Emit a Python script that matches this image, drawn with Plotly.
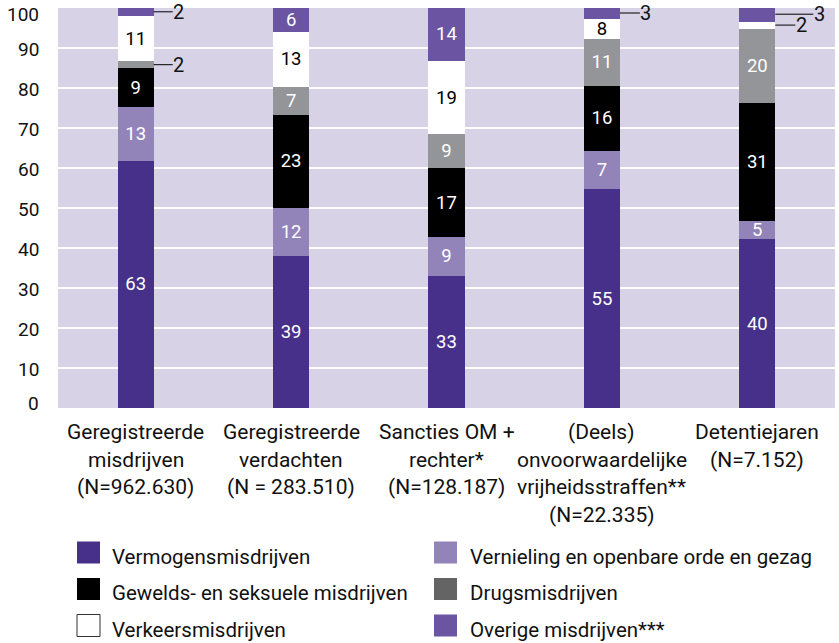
import plotly.graph_objects as go

# ---------------- data ----------------
categories = [
    "Geregistreerde<br>misdrijven<br>(N=962.630)",
    "Geregistreerde<br>verdachten<br>(N = 283.510)",
    "Sancties OM +<br>rechter*<br>(N=128.187)",
    "(Deels)<br>onvoorwaardelijke<br>vrijheidsstraffen**<br>(N=22.335)",
    "Detentiejaren<br>(N=7.152)",
]

series_names = [
    "Vermogensmisdrijven",
    "Vernieling en openbare orde en gezag",
    "Gewelds- en seksuele misdrijven",
    "Drugsmisdrijven",
    "Verkeersmisdrijven",
    "Overige misdrijven***",
]

# segment heights as drawn (percent)
vermogens_h = [61.8, 38.1, 33.1, 54.75, 42.25]
vernieling_h = [13.4, 11.9, 9.7, 9.6, 4.5]
gewelds_h = [9.75, 23.3, 17.1, 16.25, 29.4]
drugs_h = [1.75, 7.0, 8.5, 11.6, 18.7]
verkeer_h = [11.3, 13.7, 18.3, 5.0, 1.75]
overige_h = [2.1, 6.25, 13.6, 3.1, 3.7]

# printed labels (percent)
vermogens_lbl = [63, 39, 33, 55, 40]
vernieling_lbl = [13, 12, 9, 7, 5]
gewelds_lbl = [9, 23, 17, 16, 31]
drugs_lbl = [2, 7, 9, 11, 20]
verkeer_lbl = [11, 13, 19, 8, 2]
overige_lbl = [2, 6, 14, 3, 3]

y_ticks = [0, 10, 20, 30, 40, 50, 60, 70, 80, 90, 100]

heights = [vermogens_h, vernieling_h, gewelds_h, drugs_h, verkeer_h, overige_h]
labels = [vermogens_lbl, vernieling_lbl, gewelds_lbl, drugs_lbl, verkeer_lbl, overige_lbl]

# ---------------- style ----------------
bar_colors = ["#46308a", "#9283b9", "#000000", "#939598", "#ffffff", "#6b55a3"]
legend_colors = ["#46308a", "#9283b9", "#000000", "#646464", "#ffffff", "#6b55a3"]
text_colors = ["#ffffff", "#ffffff", "#ffffff", "#ffffff", "#000000", "#ffffff"]
FONT = "Roboto, Arial, sans-serif"
BG = "#d7d2e6"

# callouts: (series index, category index) -> pixel offset of label
callouts = {(5, 0): 25, (3, 0): 25, (5, 3): 26, (5, 4): 44, (4, 4): 26}

W, H = 839, 643
L, R, T, B = 58, 4, 8, 235
PW, PH = W - L - R, H - T - B


def px(xp):
    return (xp - L) / PW


def py(yp):
    return (H - B - yp) / PH


BAR_W = 0.232
xs = list(range(len(categories)))

fig = go.Figure()
for s, name in enumerate(series_names):
    txt = []
    for c in xs:
        txt.append("" if (s, c) in callouts else str(labels[s][c]))
    fig.add_trace(go.Bar(
        x=xs, y=heights[s], name=name, width=BAR_W,
        marker=dict(color=bar_colors[s], line=dict(width=0)),
        text=txt, textposition="inside", insidetextanchor="middle",
        textangle=0,
        textfont=dict(family=FONT, size=18.5, color=text_colors[s]),
        showlegend=False, hoverinfo="skip",
    ))

annotations = []
# callout labels with leader lines
for (s, c), off in callouts.items():
    base = sum(heights[k][c] for k in range(s))
    yc = base + heights[s][c] / 2
    annotations.append(dict(
        x=c + BAR_W / 2, y=yc, xref="x", yref="y",
        text=str(labels[s][c]), showarrow=True, arrowhead=0,
        arrowwidth=1, arrowcolor="#000", ax=off, ay=0,
        font=dict(family=FONT, size=20, color="#111"),
        borderpad=0,
    ))

# y-axis tick labels (annotations so the end labels stay inside the figure)
for v in y_ticks:
    shift = -1
    if v == y_ticks[-1]:
        shift = -6
    elif v == y_ticks[0]:
        shift = 5
    annotations.append(dict(
        x=px(41), y=v, xref="paper", yref="y", text=str(v), showarrow=False,
        xanchor="right", yanchor="middle", yshift=shift,
        font=dict(family=FONT, size=19, color="#111"),
    ))

# category labels (one annotation per line for wider line spacing)
for c, cat in enumerate(categories):
    for k, line in enumerate(cat.split("<br>")):
        annotations.append(dict(
            x=c, y=0, xref="x", yref="paper", text=line, showarrow=False,
            xanchor="center", yanchor="middle", yshift=-(24 + k * 27.5),
            font=dict(family=FONT, size=21, color="#111"),
        ))

# legend (manual, two columns)
shapes = []
order = [(0, 0, 0), (1, 1, 0), (2, 0, 1), (3, 1, 1), (4, 0, 2), (5, 1, 2)]
col_sq_x = [77, 434]
col_tx_x = [110, 468]
row_top = [541.5, 578, 614.5]
for s, col, row in order:
    x0, y0 = col_sq_x[col], row_top[row]
    shapes.append(dict(
        type="rect", xref="paper", yref="paper",
        x0=px(x0), x1=px(x0 + 23), y0=py(y0), y1=py(y0 + 22),
        fillcolor=legend_colors[s],
        line=dict(width=1 if s == 4 else 0, color="#333"),
    ))
    annotations.append(dict(
        x=px(col_tx_x[col]), y=py(y0 + 15), xref="paper", yref="paper",
        text=series_names[s], showarrow=False, xanchor="left", yanchor="middle",
        font=dict(family=FONT, size=20.5, color="#111"),
    ))

fig.update_layout(
    barmode="stack",
    width=W, height=H,
    margin=dict(l=L, r=R, t=T, b=B, pad=0),
    paper_bgcolor="#ffffff",
    plot_bgcolor=BG,
    font=dict(family=FONT, size=19, color="#111"),
    uniformtext=dict(minsize=18.5, mode="show"),
    annotations=annotations,
    shapes=shapes,
    hovermode=False,
    xaxis=dict(
        range=[-0.5, len(categories) - 0.5], showticklabels=False,
        showgrid=False, zeroline=False, showline=False, fixedrange=True,
    ),
    yaxis=dict(
        range=[0, 100], tickvals=y_ticks, showticklabels=False,
        showgrid=True, gridcolor="#ffffff", gridwidth=2,
        zeroline=False, showline=False, fixedrange=True,
    ),
)

fig.write_html(
    "out.html",
    config={"displayModeBar": False, "staticPlot": True},
    post_script="document.body.style.margin='0';document.body.style.overflow='hidden';",
)
